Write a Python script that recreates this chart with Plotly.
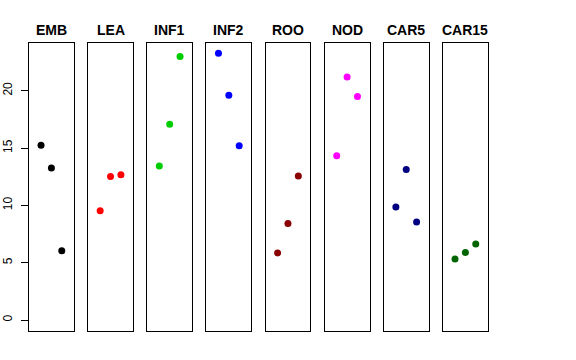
import plotly.graph_objects as go

categories = ["EMB", "LEA", "INF1", "INF2", "ROO", "NOD", "CAR5", "CAR15"]
positions = [1, 2, 3]
values = {
    "EMB":   [15.24, 13.26, 6.05],
    "LEA":   [9.54, 12.53, 12.68],
    "INF1":  [13.44, 17.07, 22.98],
    "INF2":  [23.26, 19.60, 15.21],
    "ROO":   [5.85, 8.43, 12.57],
    "NOD":   [14.34, 21.20, 19.49],
    "CAR5":  [9.86, 13.12, 8.55],
    "CAR15": [5.32, 5.90, 6.63],
}
colors = ["#000000", "#FF0000", "#00CD00", "#0000FF", "#8B0000", "#FF00FF", "#000080", "#006400"]
y_ticks = [0, 5, 10, 15, 20]

W, H = 576, 360
x0, step, pw = 29.0, 59.14, 44.8
top_px, bot_px = 42.7, 330.7
title_px = 29.5

ymax = max(max(v) for v in values.values())
ext = 0.04 * ymax
yrange = [0 - ext, ymax + ext]
xrange = [0 - 0.16, 4 + 0.16]

fig = go.Figure()
layout = dict(
    template="none",
    width=W, height=H,
    margin=dict(l=0, r=0, t=0, b=0, pad=0, autoexpand=False),
    paper_bgcolor="white", plot_bgcolor="white",
    showlegend=False,
    font=dict(family="Liberation Sans, Arial, sans-serif", color="black"),
    annotations=[],
)
for i, cat in enumerate(categories):
    n = "" if i == 0 else str(i + 1)
    left = x0 + step * i
    right = left + pw
    fig.add_trace(go.Scatter(
        x=positions, y=values[cat], mode="markers",
        marker=dict(color=colors[i], size=7, line=dict(width=0)),
        xaxis="x" + n, yaxis="y" + n, hoverinfo="x+y",
    ))
    layout["xaxis" + n] = dict(
        domain=[left / W, right / W], range=xrange, automargin=False,
        showticklabels=False, ticks="", showgrid=False, zeroline=False,
        showline=True, mirror=True, linecolor="black", linewidth=1,
        anchor="y" + n,
    )
    ydict = dict(
        domain=[(H - bot_px) / H, (H - top_px) / H], range=yrange, automargin=False,
        showgrid=False, zeroline=False,
        showline=True, mirror=True, linecolor="black", linewidth=1,
        anchor="x" + n,
    )
    if i == 0:
        ydict.update(tickvals=y_ticks, ticks="outside", ticklen=7, tickcolor="black",
                     tickwidth=1, tickangle=-90, tickfont=dict(size=12, color="black"),
                     ticklabelstandoff=4)
    else:
        ydict.update(showticklabels=False, ticks="")
    layout["yaxis" + n] = ydict
    layout["annotations"].append(dict(
        text="<b>%s</b>" % cat, x=(left + right) / 2 / W, y=(H - title_px) / H,
        xref="paper", yref="paper", showarrow=False,
        xanchor="center", yanchor="middle",
        font=dict(size=14, color="black", family="Liberation Sans, Arial, sans-serif"),
    ))

fig.update_layout(**layout)
fig.write_html(
    "out.html",
    config={"displayModeBar": False},
    post_script="document.body.style.margin='0';document.body.style.overflow='hidden';",
)
